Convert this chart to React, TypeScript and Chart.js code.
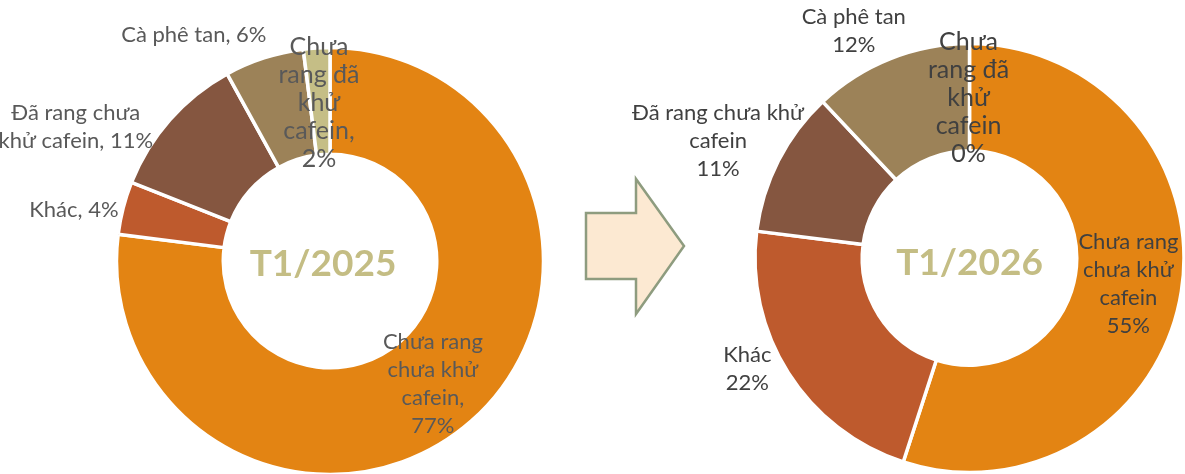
import React, { useEffect, useRef } from "react";
import { Chart, registerables } from "chart.js";

Chart.register(...registerables);

// ---------- data ----------
const categories = [
  "Chưa rang chưa khử cafein",
  "Khác",
  "Đã rang chưa khử cafein",
  "Cà phê tan",
  "Chưa rang đã khử cafein",
];
const values2025 = [77, 4, 11, 6, 2];
const values2026 = [55, 22, 11, 12, 0];
const period2025 = "T1/2025";
const period2026 = "T1/2026";

// ---------- styles / layout ----------
const sliceColors = ["#E38413", "#BE5A2D", "#855640", "#9C8258", "#C5BE86"];
const centerTextColor = "#C4BD84";
const FONT = "Lato, 'Noto Sans', sans-serif";
const W = 1185;
const H = 474;

type Place = { ring?: boolean; rf?: number; dx: number; dy: number; size?: number };

const leftLayout = {
  cx: 330,
  cy: 261,
  radius: 213.5,
  sep: ", ",
  breaks: [[2, 2, 1, 1], [2], [3, 3], [4], [1, 2, 1, 1, 1]],
  place: [
    { ring: true, dx: -3, dy: 3 },
    { rf: 1.19, dx: -10, dy: 12 },
    { rf: 1.3, dx: -46, dy: 49 },
    { rf: 1.2, dx: -57, dy: 18 },
    { ring: true, dx: -1, dy: 2, size: 25 },
  ] as Place[],
  color: "#595959",
  centerDx: -7,
  centerDy: 1,
};

const rightLayout = {
  cx: 969.5,
  cy: 258,
  radius: 214.5,
  sep: " ",
  breaks: [[2, 2, 1, 1], [1, 1], [4, 1, 1], [3, 1], [1, 2, 1, 1, 1]],
  place: [
    { ring: true, dx: 0, dy: 1 },
    { rf: 1.16, dx: -12, dy: -22 },
    { rf: 1.3, dx: -3, dy: 10 },
    { rf: 1.2, dx: -21, dy: 12 },
    { ring: true, dx: -1, dy: 1, size: 25 },
  ] as Place[],
  color: "#404040",
  centerDx: 0,
  centerDy: 3,
};

const sliceLabelPlugin = {
  id: "sliceLabels",
  afterDatasetsDraw(chart: any, _args: any, opts: any) {
    const ctx: CanvasRenderingContext2D = chart.ctx;
    const meta = chart.getDatasetMeta(0);
    const data = chart.data.datasets[0].data as number[];
    const labels = chart.data.labels as string[];
    ctx.save();
    ctx.fillStyle = opts.color;
    ctx.textAlign = "center";
    ctx.textBaseline = "middle";
    meta.data.forEach((arc: any, i: number) => {
      const p = arc.getProps(
        ["x", "y", "startAngle", "endAngle", "innerRadius", "outerRadius"],
        true
      );
      const mid = (p.startAngle + p.endAngle) / 2;
      const place: Place = opts.place[i];
      ctx.font = `${place.size || opts.fontSize}px ${FONT}`;
      const r = place.ring
        ? (p.innerRadius + p.outerRadius) / 2
        : p.outerRadius * (place.rf as number);
      const ax = p.x + Math.cos(mid) * r + place.dx;
      const ay = p.y + Math.sin(mid) * r + place.dy;
      const words = `${labels[i]}${opts.sep}${data[i]}%`.split(" ");
      const lines: string[] = [];
      let k = 0;
      for (const n of opts.breaks[i]) {
        lines.push(words.slice(k, k + n).join(" "));
        k += n;
      }
      const lh = opts.lineHeight;
      lines.forEach((ln, j) =>
        ctx.fillText(ln, ax, ay + (j - (lines.length - 1) / 2) * lh)
      );
    });
    // center title
    const a0 = meta.data[0];
    ctx.font = `bold ${opts.centerSize}px ${FONT}`;
    ctx.fillStyle = centerTextColor;
    ctx.textBaseline = "alphabetic";
    const m = ctx.measureText(opts.centerText);
    ctx.fillText(
      opts.centerText,
      a0.x + opts.centerDx,
      a0.y + m.actualBoundingBoxAscent / 2 + opts.centerDy
    );
    ctx.restore();
  },
};

function Donut({ values, title, layout }: { values: number[]; title: string; layout: any }) {
  const ref = useRef<HTMLCanvasElement | null>(null);
  useEffect(() => {
    if (!ref.current) return;
    const half = 50;
    const chart = new Chart(ref.current, {
      type: "doughnut",
      data: {
        labels: categories,
        datasets: [
          {
            data: values,
            backgroundColor: sliceColors,
            borderColor: "#FFFFFF",
            borderWidth: 3.5,
            clip: false as any,
          },
        ],
      },
      options: {
        responsive: false,
        maintainAspectRatio: false,
        animation: false,
        events: [],
        radius: layout.radius,
        cutout: "50%",
        layout: {
          padding: {
            left: layout.cx - half,
            right: W - layout.cx - half,
            top: layout.cy - half,
            bottom: H - layout.cy - half,
          },
        },
        plugins: {
          legend: { display: false },
          tooltip: { enabled: false },
          sliceLabels: {
            fontSize: 22,
            lineHeight: 28,
            centerSize: 37,
            centerText: title,
            color: layout.color,
            sep: layout.sep,
            breaks: layout.breaks,
            place: layout.place,
            centerDx: layout.centerDx,
            centerDy: layout.centerDy,
          },
        } as any,
      } as any,
      plugins: [sliceLabelPlugin],
    });
    return () => chart.destroy();
  }, [values, title, layout]);
  return (
    <canvas
      ref={ref}
      width={W}
      height={H}
      style={{ position: "absolute", left: 0, top: 0, width: W, height: H }}
    />
  );
}

function Arrow() {
  return (
    <svg
      width={W}
      height={H}
      style={{ position: "absolute", left: 0, top: 0 }}
    >
      <polygon
        points="586,213 636,213 636,179 684,246 636,314 636,279 586,279"
        fill="#FCE9D2"
        stroke="#8E9C7F"
        strokeWidth={2.5}
      />
    </svg>
  );
}

export default function App() {
  return (
    <div
      style={{
        position: "absolute",
        left: 0,
        top: 0,
        width: W,
        height: H,
        background: "#FFFFFF",
        overflow: "hidden",
      }}
    >
      <Arrow />
      <Donut values={values2025} title={period2025} layout={leftLayout} />
      <Donut values={values2026} title={period2026} layout={rightLayout} />
    </div>
  );
}
